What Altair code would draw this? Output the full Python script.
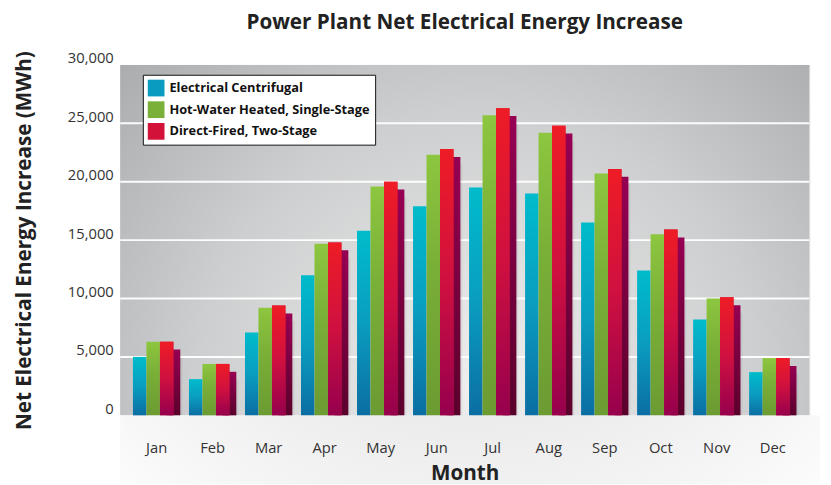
import altair as alt
import pandas as pd

months = ["Jan", "Feb", "Mar", "Apr", "May", "Jun", "Jul", "Aug", "Sep", "Oct", "Nov", "Dec"]
series = ["Electrical Centrifugal", "Hot-Water Heated, Single-Stage", "Direct-Fired, Two-Stage"]
electrical_centrifugal = [5000, 3100, 7100, 12000, 15800, 17900, 19500, 19000, 16500, 12400, 8200, 3700]
hot_water_single = [6300, 4400, 9200, 14700, 19600, 22300, 25700, 24200, 20700, 15500, 10000, 4900]
direct_fired_two = [6300, 4400, 9400, 14800, 20000, 22800, 26300, 24800, 21100, 15900, 10100, 4900]
y_ticks = [0, 5000, 10000, 15000, 20000, 25000, 30000]
grid_values = [5000, 10000, 15000, 20000, 25000]
legend_colors = ["#0a9cc0", "#7bb038", "#d3123a"]

rows = []
for s, vals in zip(series, [electrical_centrifugal, hot_water_single, direct_fired_two]):
    for m, v in zip(months, vals):
        rows.append({"month": m, "series": s, "value": v})
data = pd.DataFrame(rows)
grid_df = pd.DataFrame({"value": grid_values})
one = pd.DataFrame({"k": [0]})

FONT = "Open Sans"
W, H = 700, 356
BW = 13.7     # single bar width
SHIFT = -3.5  # group shift (leaves room for the 3D side)


def lin(stops):
    return alt.LinearGradient(
        gradient="linear", x1=0, y1=0, x2=0, y2=1,
        stops=[alt.GradientStop(offset=o, color=c) for o, c in stops],
    )


grad_blue = lin([(0, "#00bccb"), (0.5, "#0a9dc0"), (1, "#0b6ea2")])
grad_green = lin([(0, "#8dc63f"), (0.45, "#79ae37"), (1, "#6c9b32")])
grad_red = lin([(0, "#ee1c25"), (0.5, "#cf1040"), (1, "#96004e")])
grad_side = lin([(0, "#970052"), (1, "#5a002c")])

bg_grad = alt.RadialGradient(
    gradient="radial", x1=0.52, y1=0.72, r1=0, x2=0.52, y2=0.72, r2=0.75,
    stops=[alt.GradientStop(offset=0, color="#efefef"),
           alt.GradientStop(offset=0.55, color="#cdcecf"),
           alt.GradientStop(offset=1, color="#a5a7a9")],
)
floor_grad = alt.RadialGradient(
    gradient="radial", x1=0.5, y1=0, r1=0, x2=0.5, y2=0, r2=0.8,
    stops=[alt.GradientStop(offset=0, color="#d2d2d2"),
           alt.GradientStop(offset=1, color="#ffffff")],
)

x_enc = alt.X(
    "month:N", sort=months,
    scale=alt.Scale(paddingInner=0.28, paddingOuter=0.29),
    axis=alt.Axis(title="Month", labelAngle=0, ticks=False, domain=False,
                  labelPadding=26, titlePadding=7, labelFontSize=15,
                  labelFont=FONT, labelColor="#333333", titleFont=FONT,
                  titleFontSize=21, titleFontWeight="bold", titleColor="#222222",
                  zindex=1),
)
y_enc = alt.Y(
    "value:Q", scale=alt.Scale(domain=[0, 30000], nice=False),
    axis=alt.Axis(values=y_ticks, format=",.0f", grid=False, ticks=False, domain=False,
                  labelOffset=-7, labelPadding=7, labelFontSize=15, labelFont=FONT,
                  labelColor="#333333", title="Net Electrical Energy Increase (MWh)",
                  titleFont=FONT, titleFontSize=21, titleFontWeight="bold",
                  titleColor="#222222", titlePadding=33),
)
y2_zero = alt.datum(0)

background = alt.Chart(one).mark_rect(fill=bg_grad).encode(
    x=alt.value(0), x2=alt.value("width"), y=alt.value(0), y2=alt.value("height")
)
floor = alt.Chart(one).mark_rect(fill=floor_grad, y2Offset=70, x2Offset=11).encode(
    x=alt.value(0), x2=alt.value("width"), y=alt.value("height"), y2=alt.value("height")
)
grid = alt.Chart(grid_df).mark_rule(color="white", strokeWidth=2, opacity=0.95).encode(y=y_enc)


def series_bars(idx, **mark_kw):
    return alt.Chart(data).transform_filter(alt.datum.series == series[idx]).mark_bar(
        width=BW, xOffset=(idx - 1) * BW + SHIFT, **mark_kw
    )


red = 2
red_data = alt.Chart(data).transform_filter(alt.datum.series == series[red])
shadow1 = red_data.mark_bar(
    width=14, xOffset=BW + SHIFT + 9, yOffset=16, color="#000000", opacity=0.05
).encode(x=x_enc, y=y_enc, y2=y2_zero)
shadow2 = red_data.mark_bar(
    width=8, xOffset=BW + SHIFT + 8, yOffset=12, color="#000000", opacity=0.06
).encode(x=x_enc, y=y_enc, y2=y2_zero)
side = red_data.mark_bar(
    width=BW, xOffset=BW + SHIFT + 7, yOffset=8, fill=grad_side
).encode(x=x_enc, y=y_enc, y2=y2_zero)

legend_layer = series_bars(red).encode(
    x=x_enc, y=y_enc,
    color=alt.Color(
        "series:N", sort=series,
        scale=alt.Scale(domain=series, range=legend_colors),
        legend=alt.Legend(
            title=None, orient="none", legendX=23, legendY=10,
            fillColor="white", strokeColor="#111111", padding=5,
            symbolType="square", symbolSize=289, symbolStrokeWidth=0,
            labelFont=FONT, labelFontSize=13, labelFontWeight="bold",
            labelColor="#111111", labelOffset=5, rowPadding=5, labelLimit=400,
        ),
    ),
)

grad_layers = []
for i, g in enumerate([grad_blue, grad_green, grad_red]):
    grad_layers.append(series_bars(i, fill=g).encode(x=x_enc, y=y_enc))

chart = alt.layer(
    background, floor, grid, shadow1, shadow2, side, legend_layer, *grad_layers
).properties(
    width=W, height=H,
    title=alt.TitleParams("Power Plant Net Electrical Energy Increase", font=FONT,
                          fontSize=21, fontWeight="bold", color="#222222",
                          anchor="middle", offset=18),
    padding={"left": 6, "top": 0, "right": 3, "bottom": 0},
).configure_view(stroke=None).configure(background="white")

chart.save("out.html", embed_options={"renderer": "svg", "actions": False})
